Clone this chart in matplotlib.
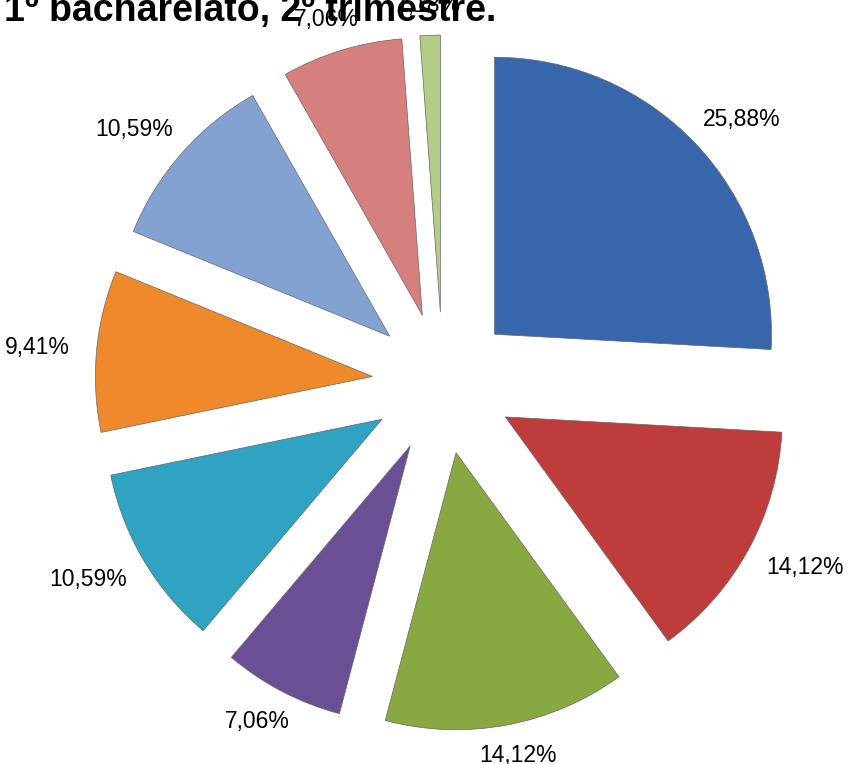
import numpy as np
import matplotlib.pyplot as plt

# Percentages per slice (clockwise from 12 o'clock)
values = [25.88, 14.12, 14.12, 7.06, 10.59, 9.41, 10.59, 7.06, 1.18]
colors = ["#3767AA", "#BE3C3A", "#88A942", "#6A4F95", "#30A2C2",
          "#EF8A2C", "#84A2D1", "#D5807E", "#B3CD86"]
labels = [f"{v:.2f}%".replace(".", ",") for v in values]
title = "1º bacharelato, 2º trimestre."

W, H, R = 849, 764, 277.0
cx, cy = 443, 383  # pie centre in pixels (from top-left)

fig = plt.figure(figsize=(W / 100, H / 100), dpi=100)
ax = fig.add_axes([0, 0, 1, 1])

wedges, _ = ax.pie(values, colors=colors, startangle=90, counterclock=False,
                   explode=[0.256] * len(values), radius=1.0,
                   wedgeprops=dict(edgecolor="#666666", linewidth=0.5))
ax.set_aspect("auto")
ax.set_xlim(-cx / R, (W - cx) / R)
ax.set_ylim(-(H - cy) / R, cy / R)
ax.axis("off")

# labels just outside each wedge's outer edge
renderer = fig.canvas.get_renderer()
for w, lab in zip(wedges, labels):
    th = np.deg2rad((w.theta1 + w.theta2) / 2)
    x0, y0 = w.center
    t = ax.text(0, 0, lab, ha="center", va="center", fontsize=16.5,
                family="Liberation Sans", color="black")
    bb = t.get_window_extent(renderer)
    hw, hh = bb.width / 2 / R, bb.height / 2 / R
    gap = (18 + 9 * abs(np.cos(th))) / R
    t.set_position((x0 + (w.r + gap) * np.cos(th) + hw * np.cos(th),
                    y0 + (w.r + gap) * np.sin(th) + hh * np.sin(th)))

fig.text(4 / W, 1 - 21 / H, title, ha="left", va="baseline", fontsize=27,
         fontweight="bold", family="Liberation Sans")

fig.savefig("out.png", dpi=100)
